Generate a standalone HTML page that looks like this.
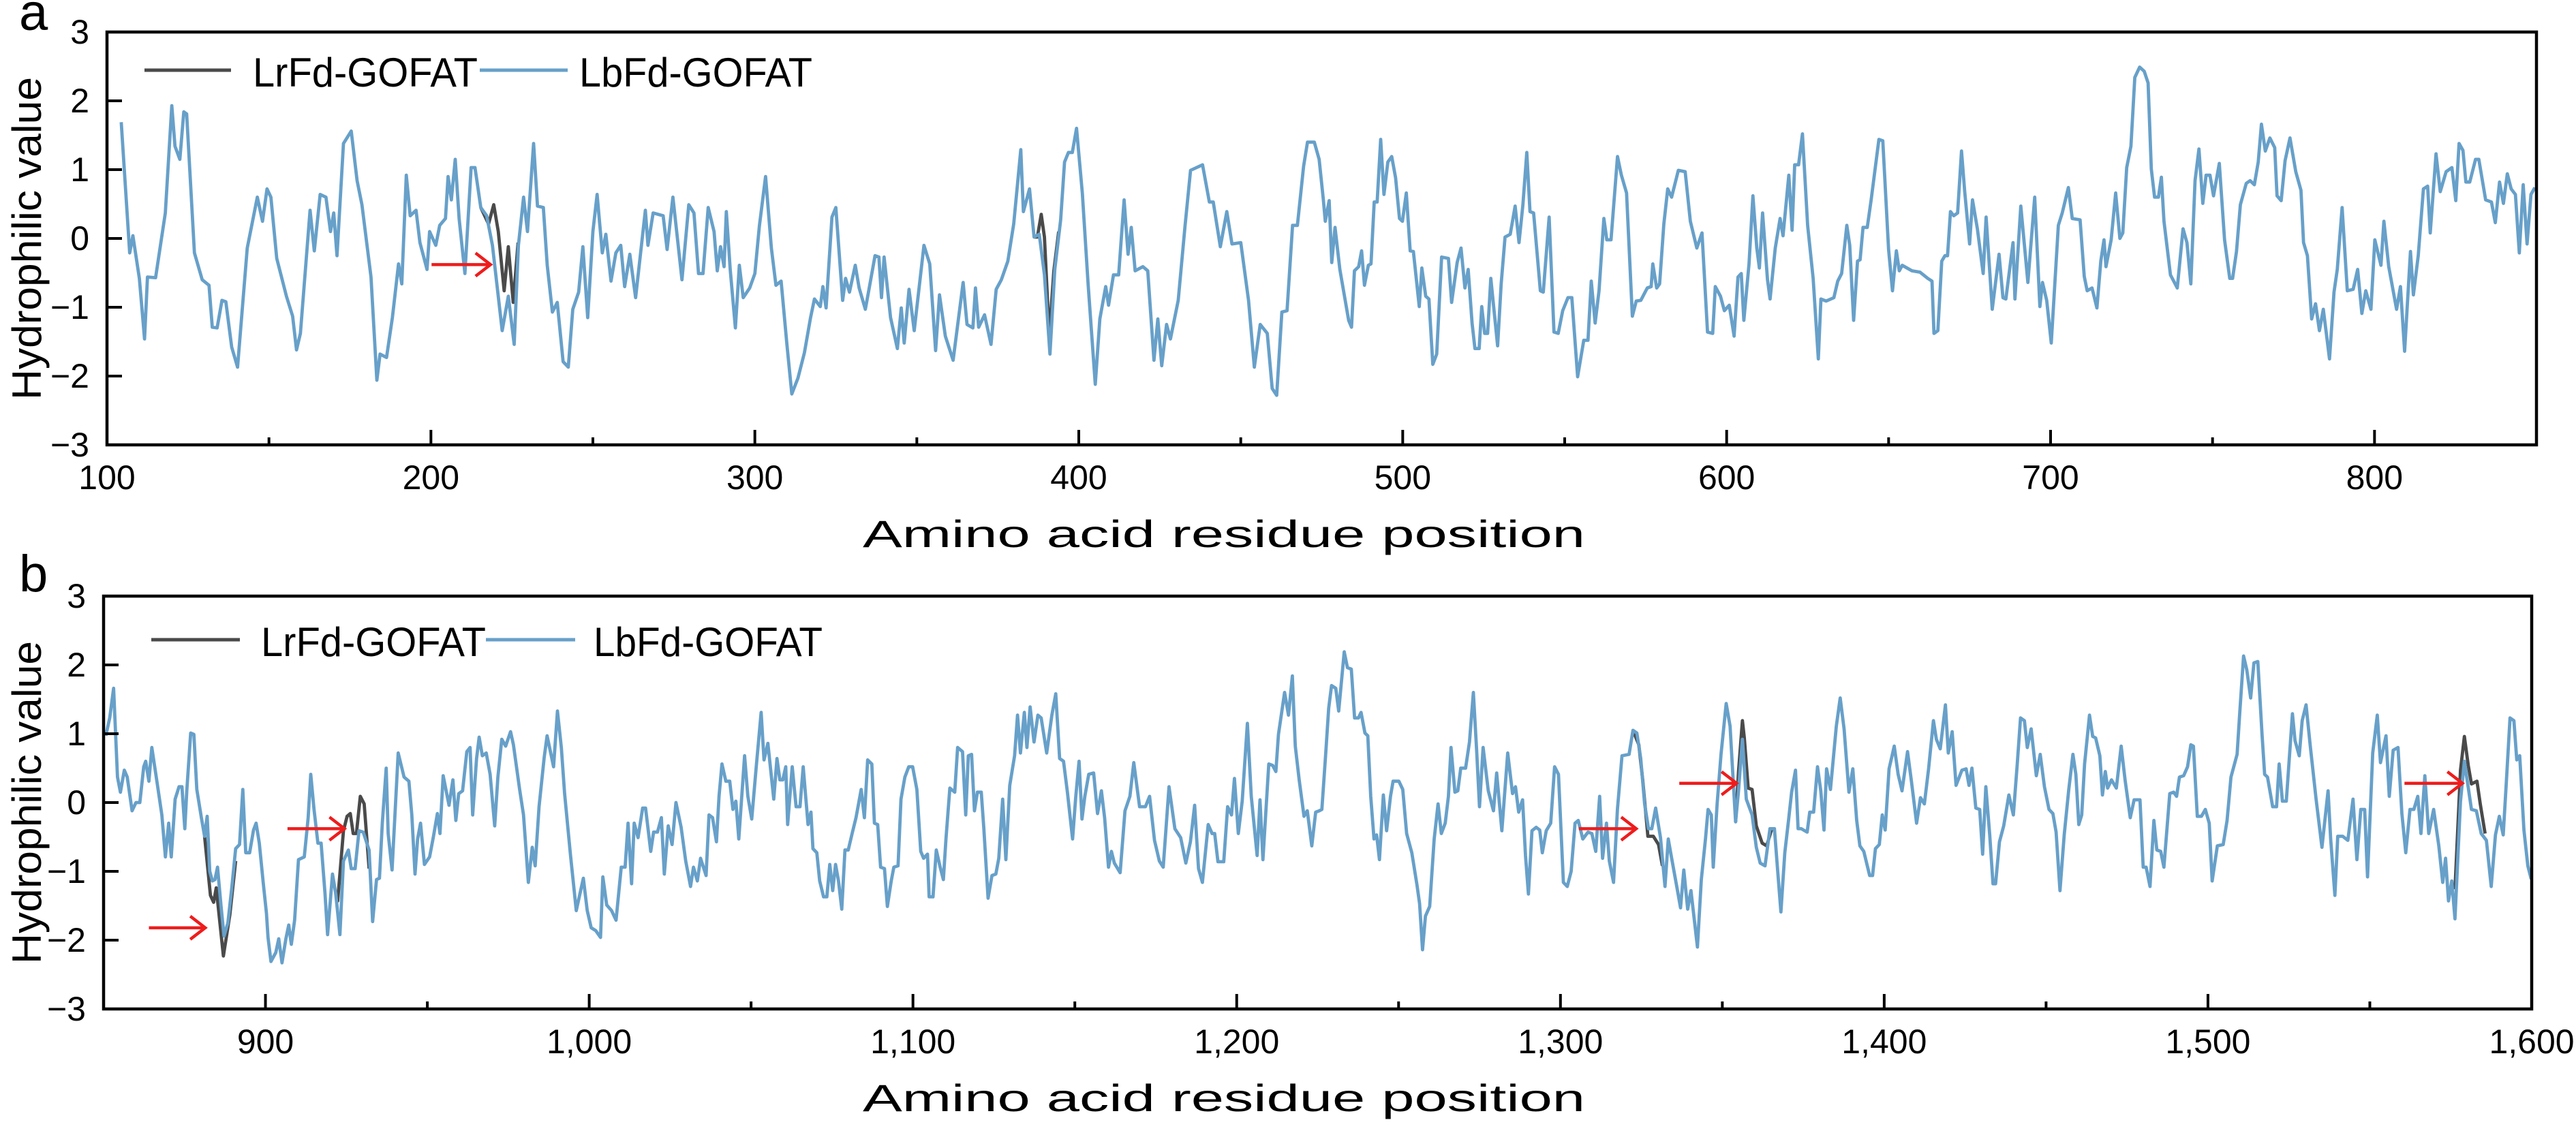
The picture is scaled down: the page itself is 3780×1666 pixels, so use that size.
<!DOCTYPE html>
<html><head><meta charset="utf-8"><style>
html,body{margin:0;padding:0;background:#fff;}
svg{display:block;}
text{font-family:"Liberation Sans",Arial,sans-serif;fill:#000;}
</style></head>
<body>
<svg id="chart" xmlns="http://www.w3.org/2000/svg" width="3780" height="1666" viewBox="0 0 3780 1666"></svg>
<script>
// ---------- DATA ----------
const yTicks = [-3,-2,-1,0,1,2,3];
const aXTicks = [100,200,300,400,500,600,700,800];
const aXMinor = [150,250,350,450,550,650,750,850];
const bXTicks = [900,1000,1100,1200,1300,1400,1500,1600];
const bXTickLabels = ["900","1,000","1,100","1,200","1,300","1,400","1,500","1,600"];
const bXMinor = [950,1050,1150,1250,1350,1450,1550];
const seriesNames = ["LrFd-GOFAT","LbFd-GOFAT"];

// Panel a, LbFd-GOFAT [residue, value]
const aLb = [[104.4,1.69],[107,-0.21],[108,0.04],[110,-0.58],[111.6,-1.46],[112.5,-0.56],[115,-0.57],[118,0.37],[120,1.93],[121,1.34],[122.5,1.15],[123.7,1.84],[124.6,1.81],[127,-0.21],[129.4,-0.60],[131.5,-0.68],[132.5,-1.29],[134,-1.30],[135.5,-0.90],[136.7,-0.92],[138.5,-1.58],[140.3,-1.87],[143.3,-0.14],[146.4,0.60],[148,0.25],[149.4,0.72],[150.6,0.60],[152.4,-0.29],[155.4,-0.84],[157.3,-1.13],[158.5,-1.62],[159.7,-1.38],[162.7,0.41],[164,-0.18],[165.8,0.64],[167.6,0.60],[169,0.10],[170,0.37],[171,-0.25],[173,1.38],[175.4,1.56],[177.2,0.84],[178.7,0.49],[181.5,-0.56],[183.3,-2.06],[184.3,-1.68],[186.3,-1.73],[188.1,-1.15],[190,-0.37],[191,-0.66],[192.4,0.92],[193.6,0.33],[195.4,0.41],[196.6,-0.06],[198.8,-0.45],[199.6,0.10],[201.5,-0.10],[202.7,0.19],[204.5,0.29],[205.3,0.90],[206.3,0.56],[207.5,1.15],[208.7,0.29],[210.5,-0.51],[212.4,1.03],[213.6,1.03],[215.4,0.45],[217.2,0.33],[219,-0.10],[222,-1.34],[223.9,-0.84],[225.7,-1.54],[227,-0.10],[228.6,0.60],[229.8,0.10],[231.7,1.38],[232.9,0.47],[234.7,0.45],[235.9,-0.39],[237.5,-1.07],[239,-0.93],[240.8,-1.79],[242.4,-1.87],[243.8,-1.03],[245.6,-0.78],[246.9,-0.12],[248.4,-1.15],[250,0.10],[251.3,0.64],[252.9,-0.21],[254,0.06],[255.6,-0.62],[257.1,-0.21],[258.6,-0.10],[259.8,-0.70],[261.4,-0.23],[263.2,-0.86],[266.2,0.41],[267,-0.10],[268.6,0.37],[271.7,0.33],[272.9,-0.16],[274.7,0.60],[277.5,-0.60],[279.6,0.49],[281.2,0.37],[282.6,-0.51],[284,-0.51],[285.6,0.45],[287.4,0.10],
[288.4,-0.47],[289.4,-0.12],[290.5,-0.41],[291.2,0.39],[292.4,-0.45],[294,-1.30],[295.2,-0.39],[296.4,-0.86],[298.4,-0.72],[300,-0.51],[301.4,0.18],[303.3,0.90],[305.1,-0.14],[306.5,-0.68],[308.1,-0.62],[309.9,-1.54],[311.4,-2.26],[313.3,-2.03],[315.3,-1.66],[317.2,-1.15],[318.4,-0.88],[320.2,-0.99],[321,-0.70],[322,-1.01],[323.8,0.31],[325,0.45],[327.1,-0.90],[328,-0.58],[329.2,-0.78],[331,-0.39],[332.2,-0.72],[334.1,-1.03],[335.3,-0.72],[337.1,-0.25],[338.3,-0.27],[339.1,-0.86],[339.9,-0.27],[341.9,-1.15],[344,-1.60],[345.2,-1.01],[346.1,-1.52],[347.6,-0.74],[349.2,-1.34],[352.2,-0.10],[354,-0.37],[355.8,-1.63],[357,-0.82],[358.8,-1.42],[361.2,-1.77],[364.3,-0.64],[365.5,-1.25],[367.3,-1.30],[368.1,-0.72],[369.1,-1.29],[370.9,-1.11],[372.9,-1.54],[374.5,-0.74],[376.1,-0.60],[378.1,-0.33],[379.9,0.21],[382.1,1.29],[382.9,0.39],[384.8,0.72],[386.2,0.02],[387.8,0.06],[389.4,-0.53],[391.1,-1.68],[392.6,-0.45],[394.4,0.27],[395.6,1.11],[396.8,1.25],[398,1.25],[399.3,1.60],[401.1,0.66],[402.9,-0.68],[405.1,-2.12],[406.5,-1.17],[408.3,-0.70],[409.2,-0.97],[410.7,-0.53],[412.3,-0.53],[414,0.56],[415.2,-0.23],[416.2,0.16],[417.4,-0.47],[419.8,-0.41],[421.3,-0.47],[423.2,-1.77],[424.4,-1.17],[425.6,-1.85],[427.1,-1.25],[428.3,-1.46],[430.7,-0.90],[432.8,0.18],[434.5,0.99],[438.2,1.07],[440.3,0.53],[441.5,0.53],[443.7,-0.12],[445.7,0.39],[447.3,-0.08],[450,-0.06],[452.4,-0.90],[454.2,-1.87],[456,-1.25],[458.2,-1.38],[459.7,-2.18],[461.1,-2.28],[462.7,-1.07],[464.3,-1.05],[466,0.19],[467.5,0.19],[469.4,1.05],[470.6,1.40],[472.7,1.40],[474.2,1.15],
[475.5,0.56],[476.1,0.25],[477.3,0.55],[478.1,-0.35],[479.1,0.16],[480.6,-0.45],[483.3,-1.19],[484.2,-1.29],[485.1,-0.47],[486.4,-0.41],[487.3,-0.18],[488.2,-0.68],[489.4,-0.39],[490.2,-0.37],[491.2,0.53],[492.1,0.53],[493.2,1.44],[494.2,0.64],[495.4,1.11],[496.6,1.19],[497.8,0.88],[499,0.29],[499.9,0.25],[501.1,0.66],[502.3,-0.18],[503.3,-0.19],[505.1,-0.99],[505.9,-0.43],[507.1,-0.84],[508.1,-0.88],[509.3,-1.83],[510.5,-1.68],[512,-0.27],[514.1,-0.29],[515.1,-0.93],[516.8,-0.35],[518,-0.14],[519.2,-0.72],[520.2,-0.45],[521.4,-1.23],[522.3,-1.60],[523.6,-1.60],[524.4,-0.99],[525.3,-1.38],[526.2,-1.38],[527.2,-0.58],[529.3,-1.56],[530.4,-0.66],[531.6,0.02],[533.2,0.06],[534.7,0.47],[535.9,-0.06],[537.1,0.49],[538.3,1.25],[539.3,0.39],[540.4,0.37],[542.5,-0.76],[543.4,-0.78],[545.2,0.31],[546.7,-1.36],[548,-1.38],[549.4,-1.05],[551,-0.86],[552.2,-0.86],[554,-2.01],[555.9,-1.48],[557.2,-1.48],[558.2,-0.62],[559.4,-1.23],[560.6,-0.76],[562.1,0.29],[563,-0.02],[564.3,-0.02],[566.3,1.19],[567.5,0.92],[569.1,0.66],[570.9,-1.13],[572.1,-0.91],[573.5,-0.90],[575.5,-0.72],[576.7,-0.70],[577.2,-0.37],[578.4,-0.72],[579.3,-0.66],[580.6,0.21],[581.8,0.72],[583,0.60],[585.1,0.99],[587.2,0.97],[588.8,0.25],[590.8,-0.14],[592.4,0.08],[594.1,-1.36],[595.7,-1.38],[596.5,-0.70],[598.1,-0.84],[599.3,-1.05],[600.8,-0.97],[602.3,-1.42],[603.5,-0.56],[604.5,-0.51],[605.3,-1.19],[606.9,-0.37],[608.1,0.62],[609.3,-0.14],[610.1,-0.43],[611.1,0.37],[612.6,-0.60],[613.4,-0.88],[615,-0.14],[616.5,0.29],[617.4,0.04],[619.2,0.92],[620.2,0.12],[621,1.07],[622.2,1.07],[623.4,1.52],[625,0.19],[626.7,-0.58],[628.3,-1.75],[629.1,-0.88],[630.7,-0.91],[633.1,-0.86],[634.3,-0.62],[635.5,-0.51],[637.1,0.19],[638,-0.10],[639.2,-1.19],[640.4,-0.33],[641.2,-0.31],[642.1,0.16],[643.4,0.16],[644.6,0.56],[647,1.44],[648.2,1.42],[650,-0.16],[651.2,-0.76],[652.4,-0.18],[653.3,-0.47],[654.2,-0.39],[657.2,-0.47],[659.7,-0.49],[662.1,-0.58],
[663.4,-0.62],[664,-1.38],[665.2,-1.34],[666.4,-0.33],[667.4,-0.25],[668.2,-0.25],[669.1,0.39],[670.1,0.33],[671.3,0.37],[672.5,1.27],[673.5,0.68],[675,-0.08],[675.9,0.56],[677.4,0.14],[679.2,-0.51],[680.1,0.31],[682,-1.03],[684.1,-0.23],[685.3,-0.86],[686.2,-0.88],[688.4,-0.06],[689,-0.88],[690.8,0.47],[693,-0.64],[695.1,0.60],[696.7,-0.99],[697.5,-0.64],[698.8,-0.90],[700.2,-1.52],[702.4,0.19],[703.6,0.37],[705.5,0.74],[706.7,0.29],[709.1,0.27],[710.4,-0.55],[711.3,-0.76],[712.8,-0.72],[714.3,-1.01],[715.5,-0.33],[716.5,-0.02],[717.1,-0.41],[718.7,-0.02],[720.1,0.66],[721.4,0.00],[722.3,0.08],[723.5,1.03],[724.8,1.34],[726,2.34],[727.5,2.49],[728.9,2.43],[730.1,2.26],[731.1,1.01],[732.1,0.60],[733.3,0.60],[734.2,0.89],[735,0.25],[737,-0.53],[739.1,-0.72],[740.9,0.14],[742.1,-0.06],[743.3,-0.66],[744.6,0.84],[745.8,1.30],[747,0.51],[748,0.92],[749.2,0.92],[750.3,0.62],[752.1,1.09],[753.7,-0.02],[755.3,-0.58],[756.2,-0.58],[757.4,-0.19],[758.6,0.49],[760.4,0.80],[761.6,0.84],[762.9,0.78],[764.1,1.11],[765.1,1.66],[766.3,1.27],[767.7,1.46],[769.2,1.32],[769.9,0.62],[771.2,0.55],[772.4,1.13],[773.9,1.46],[775.7,0.97],[777.3,0.70],[778.1,-0.06],[779.3,-0.25],[780.6,-1.17],[781.8,-0.95],[783,-1.34],[784.2,-1.03],[786.1,-1.75],[787.5,-0.78],[788.5,-0.45],[790,0.45],[791.6,-0.76],[793.4,-0.74],[794.8,-0.45],[796.1,-1.09],[797.3,-0.76],[798.9,-1.03],[800.1,-0.02],[802,-0.39],[802.9,0.25],[804.4,-0.41],[806.8,-1.03],[808,-0.70],[809.3,-1.64],[811.1,-0.19],[812,-0.82],[813.5,-0.25],[815.1,0.72],[816.4,0.76],[817.2,0.08],[819,1.23],[820.3,0.68],[822.1,0.97],[823.9,1.03],[825.1,0.55],[826.1,1.38],[827.3,1.28],[828.2,0.82],[829.4,0.82],[831.2,1.15],[832.2,1.15],[834.3,0.56],[836.1,0.53],[837.3,0.23],[838.6,0.82],[839.8,0.51],[841,0.94],[842.2,0.72],[843.5,0.64],[844.7,-0.21],[845.9,0.78],[847.1,-0.08],[848.3,0.64],[849.5,0.74]];

// Panel a, LrFd-GOFAT where it differs (segments)
const aLrSeg1 = [[215.4,0.45],[217.8,0.21],[219.4,0.49],[220.8,0.10],[222.6,-0.76],[223.9,-0.12],[225.4,-0.93],[226.9,-0.06]];
const aLrSeg2 = [[386.2,0.02],[387.2,0.02],[388.4,0.35],[389.4,0.02],[390.9,-1.42],[392.3,-0.47],[393.8,0.10]];

// Panel b, LbFd-GOFAT
const bLb = [[850.7,0.97],[851.9,1.23],[853.1,1.66],[854.3,0.37],[855.2,0.15],[856.4,0.47],[857.3,0.37],[858.8,-0.12],[860,0.00],[861.2,0.00],[862.4,0.52],[863,0.60],[864,0.31],[864.9,0.80],[866.4,0.33],[868,-0.18],[869.1,-0.79],[870.1,-0.30],[870.9,-0.79],[872.1,0.05],[873.3,0.23],[874.2,0.23],[875.1,-0.38],[875.7,0.17],[876.9,1.01],[877.9,0.99],[878.8,0.19],[880.2,-0.22],[881.2,-0.49],[882,-0.20],[882.8,-1.00],[883.6,-1.14],[884.4,-1.12],[885.2,-0.94],[886.3,-1.51],[887.2,-1.94],[888.4,-1.75],[889.6,-1.24],[890.8,-0.67],[892,-0.61],[893,0.19],[893.9,-0.73],[895.1,-0.73],[896.3,-0.40],[897.1,-0.30],[898.1,-0.59],[899.3,-1.16],[900.3,-1.61],[900.8,-1.96],[901.7,-2.31],[903.2,-2.18],[904.1,-1.98],[905.1,-2.33],[906.3,-1.98],[907.2,-1.78],[908,-2.06],[909,-1.71],[910.2,-0.83],[912,-0.79],[913.2,-0.22],[914,0.41],[915,-0.10],[916.2,-0.59],[917.2,-0.59],[918.4,-1.32],[919.2,-1.92],[920.7,-1.04],[921.7,-1.32],[923,-1.92],[924.1,-0.85],[925.6,-0.69],[926.5,-0.96],[927.7,-0.96],[928.9,-0.41],[930.2,-0.43],[932,-0.69],[933.1,-1.73],[934.3,-1.12],[935.2,-1.10],[936.1,-0.30],[937.3,0.50],[937.9,-0.45],[939.1,-0.98],[941,0.72],[942.8,0.37],[944.3,0.31],[945.2,-0.18],[946.2,-1.04],[947,-0.53],[947.9,-0.30],[949.1,-0.90],[950.7,-0.79],[951.9,-0.49],[953.1,-0.16],[953.9,-0.45],[954.9,0.39],[956.7,-0.04],[957.9,0.33],[958.8,-0.26],[959.7,0.13],[960.9,0.17],[962.2,0.74],[963.2,0.80],[964,-0.18],[965.2,0.64],[966,0.95],[967,0.68],[968.2,0.72],[969.4,0.41],[970.8,-0.34],[971.8,0.37],[973,0.92],[974.2,0.82],[975.7,1.03],[976.6,0.84],[978.5,0.19],[979.7,-0.18],[981.2,-1.16],[982.4,-0.65],[983.3,-0.92],[984.5,-0.06],[986.1,0.66],[987,0.97],[988.1,0.72],[989,0.52],[990.2,1.33],[991.4,0.80],[992.4,0.13],[994.2,-0.75],[996,-1.57],[998.2,-1.10],[999.4,-1.57],[1000.6,-1.82],[1002,-1.86],[1003.5,-1.96],[1004.2,-1.08],[1005.4,-1.49],[1006.9,-1.57],[1008.3,-1.71],[1009.9,-0.94],[1011.1,-0.94],[1012,-0.30],[1013.1,-1.18],[1013.9,-0.30],[1015.1,-0.51],[1016.5,-0.08],[1017.4,-0.08],[1019,-0.71],[1019.9,-0.43],[1021.1,-0.43],[1022.3,-0.22],[1023.2,-1.04],[1024.4,-0.34],[1025.6,-0.61],[1026.8,0.00],[1028.4,-0.36],[1029.8,-0.85],[1031.3,-1.22],[1032.2,-0.94],[1033.4,-1.14],[1034.4,-0.81],[1036.1,-1.06],[1037,-0.18],
[1038.1,-0.22],[1039.3,-0.57],[1040.1,0.09],[1041,0.56],[1042.2,0.31],[1043.4,0.31],[1044.4,-0.10],[1045.3,0.02],[1046.2,-0.53],[1048,0.68],[1049,0.09],[1050.2,-0.24],[1051.6,0.52],[1053.1,1.31],[1054,0.62],[1055.2,0.86],[1057,0.05],[1058,0.64],[1058.9,0.33],[1059.8,0.33],[1060.7,0.52],[1061.3,-0.32],[1062.7,0.52],[1063.9,-0.06],[1065.1,-0.06],[1066.1,0.52],[1067.6,-0.32],[1068.5,-0.14],[1069.1,-0.67],[1070.3,-0.73],[1071.2,-1.14],[1072.4,-1.37],[1073.4,-1.37],[1074.3,-0.90],[1075.2,-1.28],[1076.1,-0.90],[1077,-1.14],[1078,-1.55],[1079,-0.69],[1080,-0.69],[1081.2,-0.45],[1082.4,-0.22],[1084,0.19],[1085,-0.22],[1086,0.62],[1087.3,0.56],[1088.1,-0.30],[1089.1,-0.32],[1090,-0.94],[1091.2,-0.96],[1092.1,-1.51],[1093.3,-1.14],[1094.1,-0.94],[1095.4,-0.92],[1096.3,0.05],[1097.5,0.37],[1098.7,0.52],[1099.9,0.52],[1101.2,0.19],[1102.4,-0.71],[1103.3,-0.81],[1104.5,-0.75],[1105,-1.37],[1106.2,-1.37],[1107.2,-0.69],[1108.4,-0.94],[1109.4,-1.12],[1110.2,-0.53],[1111.4,0.21],[1112.9,0.15],[1113.8,0.80],[1115.3,0.74],[1116.3,-0.18],[1117.1,0.68],[1118.1,0.70],[1119,-0.12],[1119.9,0.15],[1121.1,0.15],[1121.9,-0.38],[1123.2,-1.39],[1124.4,-1.06],[1125.6,-1.04],[1126.5,-0.81],[1127.7,0.05],[1128.7,-0.83],[1129.9,0.25],[1131.4,0.68],[1132.3,1.27],[1133.2,0.72],[1134.4,1.31],[1135.2,0.80],[1136.2,1.39],[1137.4,0.88],[1138.6,1.27],[1139.6,1.23],[1141.3,0.72],[1142.9,1.27],[1144.1,1.58],[1145.3,0.64],[1146.5,0.60],[1147.7,0.15],[1149.3,-0.53],[1150.3,0.09],[1151.3,0.60],[1152.2,-0.24],[1153.1,0.09],[1154.3,0.41],[1155.8,0.43],[1157,-0.16],[1158.2,0.17],[1159.2,-0.22],[1160.4,-0.94],[1161.3,-0.71],[1162.2,-0.88],[1164,-1.02],[1165.5,-0.12],[1167,0.09],[1168.2,0.58],[1170,-0.06],[1171.8,-0.06],[1173.1,0.09],[1174.6,-0.55],[1176.1,-0.85],[1177.3,-0.94],[1179.1,0.23],[1180.9,-0.38],[1182.7,-0.51],[1184.3,-0.88],[1185.7,-0.57],[1187,-0.04],[1188.2,-0.96],[1189.4,-1.16],[1191.2,-0.32],[1192.4,-0.45],[1193.2,-0.45],[1194.2,-0.86],[1196,-0.86],[1197.2,-0.06],[1198.4,-0.18],[1199.3,0.35],[1200.5,-0.45],[1201.7,0.02],[1203.3,1.15],[1204.5,0.09],[1206.3,-0.77],[1207.2,0.04],[1208.1,-0.83],[1209.9,0.56],[1211.1,0.54],[1212.1,0.45],[1212.9,0.99],[1214.8,1.60],[1216,1.27],[1217.2,1.84],[1218.1,0.82],[1219.3,0.33],[1220.8,-0.20],[1221.8,-0.12],[1223.2,-0.63],[1224.4,-0.14],
[1225.5,-0.12],[1226.3,-0.10],[1227.5,0.72],[1228.4,1.37],[1229.3,1.70],[1230.6,1.66],[1231.5,1.33],[1233.2,2.19],[1234.2,1.96],[1235.4,1.94],[1236.4,1.23],[1237.6,1.23],[1238.4,1.31],[1239.6,1.01],[1240.5,0.97],[1241.4,0.09],[1242.4,-0.53],[1243.2,-0.47],[1244.1,-0.83],[1245.3,0.11],[1246.3,-0.41],[1247.5,0.09],[1248.3,0.31],[1250.1,0.31],[1251.3,0.19],[1252.5,-0.45],[1254.1,-0.73],[1255.7,-1.20],[1256.5,-1.47],[1257.4,-2.14],[1258.3,-1.65],[1259.6,-1.51],[1261,-0.53],[1262.2,-0.02],[1263.2,-0.45],[1264.4,-0.30],[1265.4,0.09],[1266.2,0.80],[1267.4,0.15],[1268.3,0.17],[1269.2,0.50],[1270.7,0.50],[1271.9,0.88],[1273.1,1.60],[1274.1,0.76],[1275,-0.06],[1276.1,0.80],[1277.7,0.17],[1279.3,-0.12],[1280.3,0.43],[1281.9,-0.41],[1283.7,0.72],[1285.2,0.13],[1286.1,0.23],[1287.1,-0.14],[1288.3,0.04],[1289.2,-0.77],[1290.1,-1.33],[1291.2,-0.41],[1292.5,-0.36],[1293.6,-0.40],[1294.4,-0.73],[1295.6,-0.41],[1297,-0.30],[1298.2,0.52],[1299.4,0.41],[1300.9,-1.16],[1302.1,-1.22],[1303.3,-1.00],[1304.5,-0.30],[1305.5,-0.26],[1306.9,-0.53],[1308.5,-0.43],[1309.7,-0.45],[1310.9,-0.71],[1312.1,0.09],[1313,-0.81],[1314.2,-0.30],[1315.1,-0.85],[1316.4,-1.16],[1317.6,-0.10],[1319,0.68],[1321.2,0.70],[1322.4,1.05],[1323.6,1.01],[1324.8,0.64],[1326,-0.02],[1327.2,-0.38],[1328.2,-0.38],[1329.4,-0.08],[1330.9,-0.51],[1332.3,-1.22],[1333.3,-0.53],[1334.5,-0.85],[1336,-1.24],[1337.1,-1.53],[1338.1,-0.98],[1339.3,-1.55],[1340.3,-1.28],[1342.3,-2.10],[1343.5,-1.12],[1344.8,-0.53],[1345.6,-0.10],[1346.6,-0.18],[1347.2,-0.94],[1348.4,-0.02],[1349.6,0.70],[1351.2,1.44],[1352.4,1.11],[1353.2,0.45],[1354.1,-0.28],[1355,0.17],[1356.2,0.92],[1357.4,0.05],[1359.2,-0.18],[1360.5,-0.65],[1361.7,-0.88],[1363.2,-0.92],[1364.7,-0.38],[1366.1,-0.38],[1367.1,-1.00],[1368.1,-1.59],[1369.3,-0.73],[1370.5,-0.24],[1371.4,0.15],[1372.6,0.47],[1373.4,-0.38],[1374.4,-0.38],[1376.2,-0.43],[1377,-0.14],[1378.2,-0.14],[1379.4,0.52],[1380.4,0.17],[1381.4,-0.40],[1382.2,0.49],[1383.4,0.19],[1385.2,1.11],[1386.4,1.52],[1387.6,1.07],[1389.1,0.15],[1390.3,0.49],[1391.5,-0.26],[1392.5,-0.63],[1393.7,-0.71],[1395.5,-1.06],[1396.4,-1.06],[1397.3,-0.67],[1398.5,-0.61],[1399.4,-0.18],[1400.3,-0.40],[1401.5,0.49],[1403.1,0.82],[1404.3,0.41],[1405.5,0.17],[1407.2,0.74],[1408.4,0.31],[1410,-0.30],[1411.2,0.07],[1412.4,-0.02],
[1413.7,0.49],[1415.2,1.19],[1416.1,0.92],[1417.3,0.78],[1418.9,1.42],[1419.8,0.72],[1421,1.03],[1422.2,0.25],[1424,0.47],[1425.3,0.49],[1426.2,0.25],[1427.1,0.50],[1428.3,-0.08],[1429.5,-0.10],[1430.4,-0.75],[1431.4,0.23],[1432.6,-0.47],[1433.6,-1.18],[1434.4,-1.18],[1435.6,-0.57],[1436.9,-0.34],[1438.5,0.11],[1439.9,-0.18],[1441.1,0.56],[1442.1,1.23],[1443.3,1.19],[1444.2,0.80],[1445.4,1.07],[1447,0.39],[1448.2,0.70],[1449.5,0.23],[1450.9,-0.10],[1452.1,-0.16],[1453.1,-0.43],[1454.3,-1.28],[1455.6,-0.47],[1457,0.19],[1458.3,0.70],[1459.2,0.41],[1460.1,-0.32],[1461,-0.18],[1461.9,0.56],[1463.4,1.27],[1464.4,0.96],[1465.3,0.94],[1466.6,0.68],[1467.4,0.11],[1468.3,0.45],[1469,0.21],[1470.2,0.33],[1471.7,0.21],[1473.2,0.82],[1474.4,0.33],[1476,-0.22],[1477.2,0.04],[1479,0.04],[1480,-0.94],[1480.9,-0.94],[1482.1,-1.22],[1483.3,-0.26],[1484.2,-0.69],[1485.4,-0.71],[1486.4,-0.94],[1488.2,0.13],[1489.4,0.15],[1490.3,0.09],[1491.2,0.37],[1492.5,0.39],[1493.7,0.52],[1494.7,0.84],[1495.5,0.82],[1496.7,-0.20],[1498,-0.20],[1499.2,-0.10],[1500.4,-0.30],[1501.3,-1.14],[1502.9,-0.63],[1504.7,-0.61],[1505.9,-0.26],[1507.1,0.37],[1509,0.70],[1509.8,1.29],[1511,2.13],[1512,1.93],[1513.2,1.52],[1514.2,2.03],[1515.4,2.05],[1516.7,0.99],[1517.5,0.41],[1518.4,0.37],[1520,-0.06],[1521.2,-0.06],[1522,0.56],[1523,0.02],[1524.2,0.02],[1526.1,1.29],[1526.9,0.90],[1528.2,0.68],[1529.1,1.19],[1530.3,1.42],[1531.6,0.82],[1533.4,0.05],[1535.2,-0.65],[1537.1,0.17],[1537.9,-0.53],[1539.2,-1.35],[1540.1,-0.49],[1541.6,-0.49],[1543.2,-0.55],[1544.8,0.05],[1546,-0.83],[1547.2,-0.10],[1548.4,-0.10],[1549.3,-1.08],[1550.9,0.72],[1552.3,1.27],[1553.3,0.58],[1555,0.97],[1556,0.09],[1557.2,0.76],[1558.7,0.80],[1559.9,-0.16],[1561.1,-0.73],[1562.4,-0.10],[1563.6,-0.10],[1564.8,0.09],[1565.8,-0.45],[1567,0.39],[1568.2,-0.45],[1569.7,-0.10],[1571.3,-0.63],[1572.5,-1.16],[1573.4,-0.81],[1574.3,-1.43],[1575.3,-1.14],[1576.3,-1.69],[1578,0.02],[1579.2,0.60],[1581.4,-0.10],[1582.9,-0.12],[1584.4,-0.45],[1586,-0.55],[1587.5,-1.22],[1588.8,-0.47],[1590,-0.20],[1591.2,-0.47],[1592.1,0.25],[1593.3,1.23],[1594.5,1.19],[1595.4,0.62],[1596.3,0.68],[1597.6,-0.40],[1598.8,-0.92],[1599.8,-1.10],[1600.4,-0.81]];

// Panel b, LrFd-GOFAT where it differs
const bLrSeg1 = [[881.2,-0.49],[883,-1.35],[884,-1.45],[884.8,-1.24],[887,-2.23],[889,-1.63],[890.8,-0.85]];
const bLrSeg2 = [[921.7,-1.32],[922.3,-1.43],[924.1,-0.41],[925.2,-0.20],[926.2,-0.16],[927.1,-0.45],[928.1,-0.45],[929.3,0.09],[930.5,-0.02],[932,-0.96]];
const bLrSeg3 = [[1322.4,1.05],[1324.2,0.84],[1325.4,0.33],[1327,-0.49],[1328.7,-0.49],[1330.3,-0.61],[1331.5,-0.92]];
const bLrSeg4 = [[1354.1,-0.28],[1355,0.45],[1356.2,1.19],[1356.8,0.94],[1358,0.21],[1359.2,0.19],[1360.5,-0.34],[1362.3,-0.59],[1363.7,-0.63],[1365.3,-0.38]];
const bLrSeg5 = [[1576.3,-1.26],[1578,0.47],[1579.2,0.96],[1580.4,0.54],[1581.4,0.27],[1583.1,0.31],[1584.1,-0.02],[1585.6,-0.45]];

// Red annotation arrows [fromResidue, toResidue, value]
const aArrows = [[200.2,218.4,-0.38]];
const bArrows = [[864,881.4,-1.82],[906.8,924.4,-0.38],[1305.7,1323.4,-0.38],[1336.7,1354.4,0.28],[1560.7,1578.6,0.28]];

// ---------- RENDER ----------
const NS = "http://www.w3.org/2000/svg";
const svg = document.getElementById('chart');
const BLUE = "#67a0c9", DARK = "#4a4a4a", RED = "#ee1c1c";
function mk(tag, attrs, parent) {
  const e = document.createElementNS(NS, tag);
  for (const k in attrs) e.setAttribute(k, attrs[k]);
  (parent || svg).appendChild(e);
  return e;
}
function fmtMinus(v){ return v < 0 ? "\u2212" + Math.abs(v) : String(v); }

function drawPanel(p) {
  const g = mk('g', {});
  
  
  const sx = v => p.L + (v - p.x0) / (p.x1 - p.x0) * (p.R - p.L);
  const sy = v => p.T + (3 - v) / 6 * (p.B - p.T);

  const lt = mk('text', {x: 28, y: p.letterY, 'font-size': 76, 'font-family': '"Liberation Serif",serif'}, g);
  lt.textContent = p.letter;
  
  

  const pathOf = arr => arr.map((d,i) => (i ? 'L' : 'M') + sx(d[0]).toFixed(1) + ' ' + sy(d[1]).toFixed(1)).join(' ');
  const clip = mk('clipPath', {id: 'clip-' + p.letter}, g);
  mk('rect', {x: p.L, y: p.T, width: p.R - p.L, height: p.B - p.T}, clip);
  const sg = mk('g', {'clip-path': 'url(#clip-' + p.letter + ')'}, g);
  p.lr.forEach((seg, i) => {
    const path = mk('path', {d: pathOf(seg), fill: 'none', stroke: DARK, 'stroke-width': 4.8, 'stroke-linejoin': 'round'}, sg);
    
    
  });
  const bl = mk('path', {d: pathOf(p.lb), fill: 'none', stroke: BLUE, 'stroke-width': 4.8, 'stroke-linejoin': 'round'}, sg);
  
  

  p.arrows.forEach((a, i) => {
    const ag = mk('g', {stroke: RED, 'stroke-width': 4.5, fill: 'none'}, g);
    
    
    const x1 = sx(a[0]), x2 = sx(a[1]), y = sy(a[2]);
    mk('line', {x1: x1, y1: y, x2: x2, y2: y}, ag);
    mk('path', {d: `M${x2-22} ${y-17} L${x2} ${y} L${x2-22} ${y+17}`}, ag);
  });

  const fr = mk('rect', {x: p.L, y: p.T, width: p.R - p.L, height: p.B - p.T, fill: 'none', stroke: '#000', 'stroke-width': 4.5}, g);
  
  

  yTicks.forEach(v => {
    const y = sy(v);
    if (v > -3 && v < 3) mk('line', {x1: p.L, x2: p.L + 22, y1: y, y2: y, stroke: '#000', 'stroke-width': 4}, g);
    const t = mk('text', {x: p.L - 26, y: y + 17, 'font-size': 50, 'text-anchor': 'end'}, g);
    t.textContent = fmtMinus(v);
    
    
  });
  p.xt.forEach((v, i) => {
    const x = sx(v);
    mk('line', {x1: x, x2: x, y1: p.B, y2: p.B - 22, stroke: '#000', 'stroke-width': 4}, g);
    const t = mk('text', {x: x, y: p.B + 65, 'font-size': 50, 'text-anchor': 'middle'}, g);
    t.textContent = p.xl[i];
    
    
  });
  p.xm.forEach(v => {
    if (v >= p.x1) return;
    const x = sx(v);
    mk('line', {x1: x, x2: x, y1: p.B, y2: p.B - 11, stroke: '#000', 'stroke-width': 4}, g);
  });

  const cy = (p.T + p.B) / 2;
  const yt = mk('text', {x: 0, y: 0, 'font-size': 60, 'text-anchor': 'middle', textLength: 474, lengthAdjust: 'spacingAndGlyphs', transform: `translate(60 ${cy}) rotate(-90)`}, g);
  yt.textContent = 'Hydrophilic value';
  
  
  const xt = mk('text', {x: 1796, y: p.B + 150, 'font-size': 56, 'text-anchor': 'middle', textLength: 1060, lengthAdjust: 'spacingAndGlyphs'}, g);
  xt.textContent = 'Amino acid residue position';
  
  

  const lg = mk('g', {}, g);
  
  
  const L = p.leg;
  const e1 = mk('g', {}, lg);
  
  
  mk('line', {x1: L.l1[0], x2: L.l1[1], y1: L.ly, y2: L.ly, stroke: DARK, 'stroke-width': 5}, e1);
  const t1 = mk('text', {x: L.t1[0], y: L.ty, 'font-size': 60, textLength: L.t1[1], lengthAdjust: 'spacingAndGlyphs'}, e1);
  t1.textContent = seriesNames[0];
  const e2 = mk('g', {}, lg);
  
  
  mk('line', {x1: L.l2[0], x2: L.l2[1], y1: L.ly, y2: L.ly, stroke: BLUE, 'stroke-width': 5}, e2);
  const t2 = mk('text', {x: L.t2[0], y: L.ty, 'font-size': 60, textLength: L.t2[1], lengthAdjust: 'spacingAndGlyphs'}, e2);
  t2.textContent = seriesNames[1];
}

drawPanel({name: 'panel-a', letter: 'a', letterY: 44, L: 157, R: 3722, T: 47, B: 653, x0: 100, x1: 850,
  xt: aXTicks, xl: aXTicks.map(String), xm: aXMinor, lb: aLb, lr: [aLrSeg1, aLrSeg2], arrows: aArrows,
  leg: {ly: 103, ty: 127, l1: [212, 339], t1: [371, 330], l2: [704, 833], t2: [850, 342]}});
drawPanel({name: 'panel-b', letter: 'b', letterY: 868, L: 152, R: 3715, T: 875, B: 1481, x0: 850, x1: 1600,
  xt: bXTicks, xl: bXTickLabels, xm: bXMinor, lb: bLb, lr: [bLrSeg1, bLrSeg2, bLrSeg3, bLrSeg4, bLrSeg5], arrows: bArrows,
  leg: {ly: 939, ty: 963, l1: [222, 352], t1: [383, 330], l2: [713, 844], t2: [871, 336]}});
</script>
</body></html>
